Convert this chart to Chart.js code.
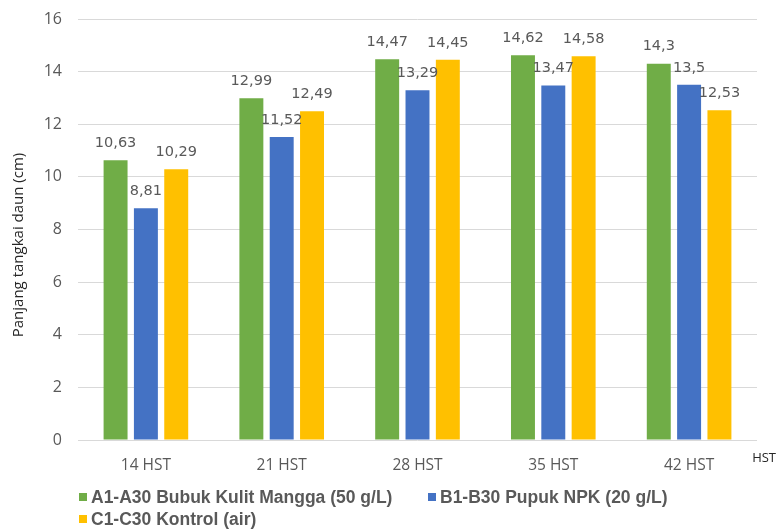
<!DOCTYPE html>
<html>
<head>
<meta charset="utf-8">
<script src="https://cdn.jsdelivr.net/npm/chart.js@4"></script>
<style>
  html, body { margin: 0; padding: 0; background: #fff; }
  #wrap { width: 777px; height: 529px; }
</style>
</head>
<body>
<div id="wrap"><canvas id="chart" width="777" height="529"></canvas></div>
<script>
const categories = ['14 HST', '21 HST', '28 HST', '35 HST', '42 HST'];
const seriesNames = [
  'A1-A30 Bubuk Kulit Mangga (50 g/L)',
  'B1-B30 Pupuk NPK (20 g/L)',
  'C1-C30 Kontrol (air)'
];
const seriesA = [10.63, 12.99, 14.47, 14.62, 14.3];
const seriesB = [8.81, 11.52, 13.29, 13.47, 13.5];
const seriesC = [10.29, 12.49, 14.45, 14.58, 12.53];
const colors = ['#70AD47', '#4472C4', '#FFC000'];
const yTitle = 'Panjang tangkai daun (cm)';
const xTitle = 'HST';

// value labels above the bars, comma decimal like the original
const valueLabels = {
  id: 'valueLabels',
  afterDatasetsDraw(chart) {
    const ctx = chart.ctx;
    ctx.save();
    ctx.font = '14.5px "DejaVu Sans"';
    ctx.fillStyle = '#595959';
    ctx.textAlign = 'center';
    ctx.textBaseline = 'middle';
    chart.data.datasets.forEach((ds, i) => {
      chart.getDatasetMeta(i).data.forEach((bar, j) => {
        ctx.fillText(String(ds.data[j]).replace('.', ','), bar.x, bar.y - 17);
      });
    });
    ctx.restore();
  }
};

// axis titles: y title rotated on the left, x title at right end of tick line
const axisTitles = {
  id: 'axisTitles',
  afterDraw(chart) {
    const ctx = chart.ctx;
    const a = chart.chartArea;
    ctx.save();
    ctx.textBaseline = 'middle';
    ctx.font = '13px "Open Sans"';
    ctx.fillStyle = '#262626';
    ctx.textAlign = 'right';
    ctx.fillText(xTitle, 776, a.bottom + 18);

    ctx.font = '15px "Open Sans"';
    ctx.textAlign = 'center';
    ctx.translate(19, 245);
    ctx.rotate(-Math.PI / 2);
    ctx.fillText(yTitle, 0, 0);
    ctx.restore();
  }
};

// Excel-like legend: two columns, left aligned
const gridLegend = {
  id: 'gridLegend',
  afterDraw(chart) {
    const ctx = chart.ctx;
    ctx.save();
    ctx.font = 'bold 17.5px "Liberation Sans"';
    ctx.textBaseline = 'middle';
    ctx.textAlign = 'left';
    chart.data.datasets.forEach((ds, i) => {
      const col = i % 2, row = Math.floor(i / 2);
      const x = 79 + col * 349;
      const y = 497 + row * 22;
      ctx.fillStyle = ds.backgroundColor;
      ctx.fillRect(x, y - 4, 8, 8);
      ctx.fillStyle = '#595959';
      ctx.fillText(ds.label, x + 12, y + 1);
    });
    ctx.restore();
  }
};

const dataSets = [seriesA, seriesB, seriesC].map((d, i) => ({
  label: seriesNames[i],
  data: d,
  backgroundColor: colors[i],
  borderWidth: 0,
  categoryPercentage: 0.67,
  barPercentage: 0.79
}));

new Chart(document.getElementById('chart').getContext('2d'), {
  type: 'bar',
  data: { labels: categories, datasets: dataSets },
  options: {
    responsive: false,
    animation: false,
    layout: { padding: { top: 19, right: 20, bottom: 0, left: 0 } },
    plugins: {
      legend: { display: false },
      tooltip: { enabled: false }
    },
    scales: {
      x: {
        grid: { display: false, drawTicks: false },
        border: { display: false },
        ticks: { color: '#595959', font: { family: 'Open Sans', size: 15.5 }, padding: 16 },
        afterFit(s) { s.height = 89; }
      },
      y: {
        min: 0,
        max: 16,
        grid: { color: '#d9d9d9', drawTicks: false },
        border: { display: false },
        ticks: { stepSize: 2, color: '#595959', font: { family: 'Open Sans', size: 16 }, padding: 16 },
        afterFit(s) {
          s.width = 78;
          // tick padding is horizontal here, don't let it push the plot down
          s.paddingTop = 0;
          s.paddingBottom = 0;
        }
      }
    }
  },
  plugins: [valueLabels, axisTitles, gridLegend]
});
</script>
</body>
</html>
